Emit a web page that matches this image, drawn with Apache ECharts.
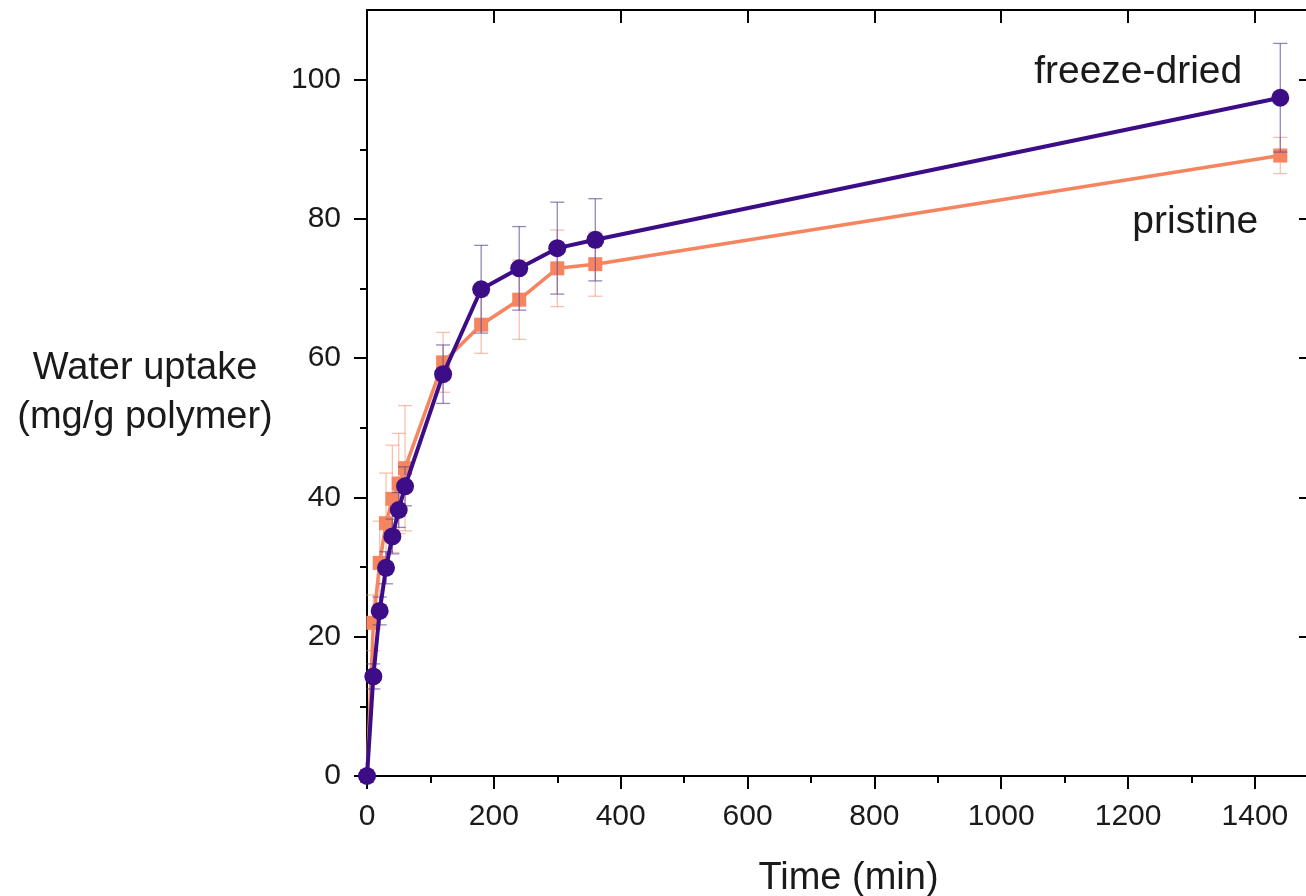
<!DOCTYPE html>
<html>
<head>
<meta charset="utf-8">
<script src="https://cdn.jsdelivr.net/npm/echarts@6/dist/echarts.min.js"></script>
<style>
html,body{margin:0;padding:0;background:#fff;}
#chart{width:1306px;height:896px;}
</style>
</head>
<body>
<div id="chart"></div>
<script>
// ---- data ----
const times = [0, 10, 20, 30, 40, 50, 60, 120, 180, 240, 300, 360, 1440];
const freezeDried = [0, 14.3, 23.7, 29.9, 34.4, 38.2, 41.6, 57.7, 69.9, 72.9, 75.8, 77.0, 97.4];
const freezeDriedErr = [0, 1.8, 2.0, 2.3, 2.5, 2.5, 2.8, 4.2, 6.3, 6.0, 6.6, 5.9, 7.8];
const pristine = [0, 22.0, 30.6, 36.3, 39.8, 42.0, 44.2, 59.4, 64.8, 68.4, 72.9, 73.5, 89.1];
const pristineErr = [0, 4.0, 6.0, 7.2, 7.7, 7.2, 9.0, 4.3, 4.1, 5.7, 5.5, 4.6, 2.6];
const xMajorTicks = [0, 200, 400, 600, 800, 1000, 1200, 1400];
const xMinorTicks = [100, 300, 500, 700, 900, 1100, 1300];
const yMajorTicks = [0, 20, 40, 60, 80, 100];
const yMinorTicks = [10, 30, 50, 70, 90];
const seriesNames = ['freeze-dried', 'pristine'];
const xTitle = 'Time (min)';
const yTitle = 'Water uptake\n(mg/g polymer)';
// annotation anchors in data space (right edge of text, vertical centre)
const annotationAnchors = [[1380, 101], [1405, 79.5]];

const PURPLE = '#3c0d87';
const SALMON = '#f6845f';
const FONT = 'Liberation Sans, Arial, Helvetica, sans-serif';
const TXT = '#1a1a1a';

const chart = echarts.init(document.getElementById('chart'), null, {renderer: 'canvas'});

function pairs(xs, ys) { return xs.map((x, i) => [x, ys[i]]); }
function errData(xs, ys, es) { return xs.map((x, i) => [x, ys[i] - es[i], ys[i] + es[i]]); }

function errRender(color) {
  return function (params, api) {
    const x = api.value(0), lo = api.value(1), hi = api.value(2);
    if (hi - lo <= 0) return null;
    const a = api.coord([x, hi]);
    const b = api.coord([x, lo]);
    const w = 7;
    const st = {stroke: color, lineWidth: 1.3};
    return {
      type: 'group',
      children: [
        {type: 'line', shape: {x1: a[0], y1: a[1], x2: b[0], y2: b[1]}, style: st},
        {type: 'line', shape: {x1: a[0] - w, y1: a[1], x2: a[0] + w, y2: a[1]}, style: st},
        {type: 'line', shape: {x1: b[0] - w, y1: b[1], x2: b[0] + w, y2: b[1]}, style: st}
      ]
    };
  };
}

const XMIN = 0, XMAX = 1490, YMIN = 0, YMAX = 110;
const axisLine = {show: true, onZero: false, lineStyle: {color: '#000', width: 2}};
const noLine = {show: false};
const plainNum = v => String(v);

function xAx(pos, ticks, len, inside, labels, line) {
  return {
    type: 'value', position: pos, min: XMIN, max: XMAX, gridIndex: 0,
    axisLine: line ? axisLine : noLine,
    splitLine: {show: false},
    axisTick: {show: true, inside: inside, length: len, customValues: ticks, lineStyle: {color: '#000', width: 2}},
    axisLabel: labels ? {show: true, customValues: ticks, formatter: plainNum, margin: 26, fontSize: 30, fontFamily: FONT, color: TXT} : {show: false},
    name: (labels ? xTitle : ''),
    nameLocation: 'middle', nameGap: 84,
    nameTextStyle: {fontSize: 38, fontFamily: FONT, color: TXT, padding: [0, 0, 0, 18]}
  };
}
function yAx(pos, ticks, len, inside, labels, line) {
  return {
    type: 'value', position: pos, min: YMIN, max: YMAX, gridIndex: 0,
    axisLine: line ? axisLine : noLine,
    splitLine: {show: false},
    axisTick: {show: true, inside: inside, length: len, customValues: ticks, lineStyle: {color: '#000', width: 2}},
    axisLabel: labels ? {show: true, customValues: ticks, formatter: plainNum, margin: 26, fontSize: 30, fontFamily: FONT, color: TXT} : {show: false},
    name: (labels ? yTitle : ''),
    nameLocation: 'middle', nameGap: 222, nameRotate: 0,
    nameTextStyle: {fontSize: 38, fontFamily: FONT, color: TXT, align: 'center', verticalAlign: 'middle', lineHeight: 49, padding: [6, 0, 0, 0]}
  };
}

const option = {
  animation: false,
  backgroundColor: '#fff',
  grid: {left: 367, top: 10, width: 945, height: 766, containLabel: false, outerBoundsMode: 'none'},
  xAxis: [
    xAx('bottom', xMajorTicks, 13, false, true, true),
    xAx('bottom', xMinorTicks, 7, false, false, false),
    xAx('top', xMajorTicks, 13, true, false, true),
    xAx('top', xMinorTicks, 7, true, false, false)
  ],
  yAxis: [
    yAx('left', yMajorTicks, 13, false, true, true),
    yAx('left', yMinorTicks, 7, false, false, false),
    yAx('right', yMajorTicks, 13, true, false, true),
    yAx('right', yMinorTicks, 7, true, false, false)
  ],
  series: [
    {
      name: seriesNames[1] + ' err', type: 'custom', xAxisIndex: 0, yAxisIndex: 0,
      renderItem: errRender('rgba(246,140,110,0.55)'),
      data: errData(times, pristine, pristineErr), z: 2, silent: true
    },
    {
      name: seriesNames[1], type: 'line', xAxisIndex: 0, yAxisIndex: 0,
      data: pairs(times, pristine),
      symbol: 'rect', symbolSize: 14, showAllSymbol: true,
      itemStyle: {color: SALMON},
      lineStyle: {color: SALMON, width: 3.5},
      z: 3
    },
    {
      name: seriesNames[0] + ' err', type: 'custom', xAxisIndex: 0, yAxisIndex: 0,
      renderItem: errRender('rgba(90,70,150,0.65)'),
      data: errData(times, freezeDried, freezeDriedErr), z: 4, silent: true
    },
    {
      name: seriesNames[0], type: 'line', xAxisIndex: 0, yAxisIndex: 0,
      data: pairs(times, freezeDried),
      symbol: 'circle', symbolSize: 18, showAllSymbol: true,
      itemStyle: {color: PURPLE},
      lineStyle: {color: PURPLE, width: 4},
      z: 5
    }
  ]
};
chart.setOption(option);

// annotations anchored to data coordinates
const g = annotationAnchors.map((pt, i) => {
  const p = chart.convertToPixel({xAxisIndex: 0, yAxisIndex: 0}, pt);
  return {
    type: 'text', x: p[0], y: p[1], z: 10,
    style: {text: seriesNames[i], font: '39px ' + FONT, fill: TXT, align: 'right', verticalAlign: 'middle'}
  };
});
chart.setOption({graphic: g});
</script>
</body>
</html>
